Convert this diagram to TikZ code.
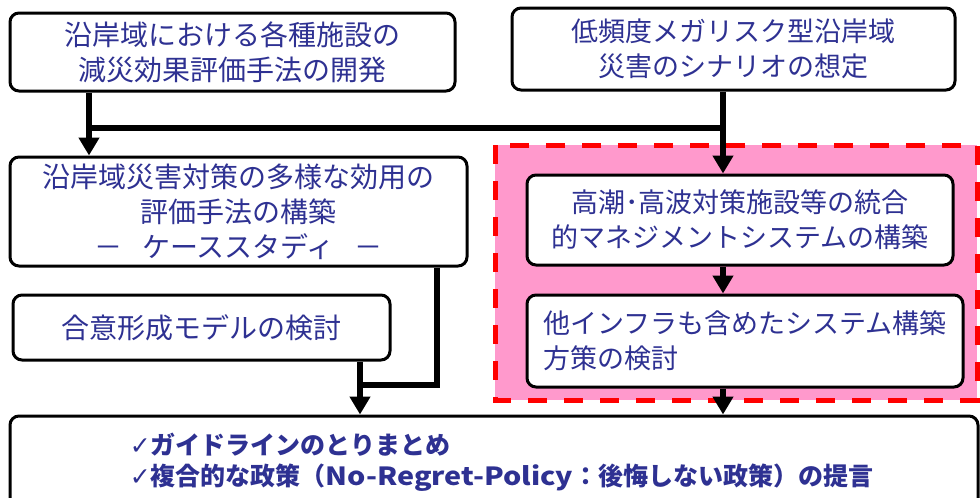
\documentclass[tikz,border=0pt]{standalone}
\usepackage{fontspec}
\usepackage{graphicx}
\setmainfont{Noto Sans CJK JP}
\newfontfamily\symfont{DejaVu Sans}
\usetikzlibrary{arrows.meta}
\definecolor{txtblue}{RGB}{46,49,146}
\definecolor{pinkfill}{RGB}{255,153,204}
\definecolor{dashred}{RGB}{255,0,0}
\tikzset{
  box/.style={draw=black, line width=3pt, rounded corners=9pt, fill=white,
    text=txtblue, align=center, inner sep=0pt,
    font=\fontsize{28}{35}\selectfont},
  rbox/.style={box, font=\fontsize{27}{35}\selectfont},
  conn/.style={draw=black, line width=5.5pt, line join=miter},
  arr/.style={conn, -{Triangle[width=20pt,length=18pt]}},
  zone/.style={fill=pinkfill, draw=dashred, line width=5pt, dash pattern=on 19pt off 17pt}
}
\newcommand{\chk}{{\symfont\bfseries ✓}}
\begin{document}
\begin{tikzpicture}[x=1pt,y=-1pt]
\useasboundingbox (0,0) rectangle (980,498);
% pink zone
\path[zone] (495,145) rectangle (977,400);
% boxes
\node[box, minimum width=445pt, minimum height=78pt] (tl) at (232.5,52)
  {沿岸域における各種施設の\\減災効果評価手法の開発};
\node[rbox, minimum width=443pt, minimum height=82pt] (tr) at (733.5,49)
  {低頻度メガリスク型沿岸域\\災害のシナリオの想定};
\node[box, minimum width=457pt, minimum height=109pt] (ml) at (238.5,211.5)
  {沿岸域災害対策の多様な効用の\\評価手法の構築\\－\hspace{0.7em}ケーススタディ\hspace{0.7em}－};
\node[box, minimum width=377pt, minimum height=65pt] (ag) at (201.5,327.5)
  {合意形成モデルの検討};
\node[rbox, minimum width=426pt, minimum height=90pt] (hs) at (740,220)
  {高潮･高波対策施設等の統合\\的マネジメントシステムの構築};
\node[rbox, align=left, minimum width=436pt, minimum height=92pt] (ot) at (745,341)
  {他インフラも含めたシステム構築\\方策の検討};
\node[box, align=left, text width=928pt, inner xsep=20pt, minimum width=968pt,
  minimum height=93pt, font=\fontsize{25}{31}\selectfont\bfseries] (bt) at (494,462.5)
  {\hspace*{100pt}\chk ガイドラインのとりまとめ\\
   \hspace*{100pt}\chk 複合的な政策（\scalebox{1.15}[1]{No-Regret-Policy}：後悔しない政策）の提言};
% junctions
\coordinate (j1) at (89,128);
\coordinate (j2) at (723,128);
\coordinate (c1) at (437,385);
\coordinate (j3) at (360,385);
% connectors
\draw[conn] (tl.south -| j1) -- (j1) -- (j2);
\draw[arr] (j1) -- (ml.north -| j1);
\draw[arr] (tr.south -| j2) -- (hs.north -| j2);
\draw[arr] (hs.south -| j2) -- (ot.north -| j2);
\draw[arr] (ot.south -| j2) -- (bt.north -| j2);
\draw[conn] (ml.south -| c1) -- (c1) -- (j3);
\draw[arr] (ag.south -| j3) -- (bt.north -| j3);
\end{tikzpicture}
\end{document}
